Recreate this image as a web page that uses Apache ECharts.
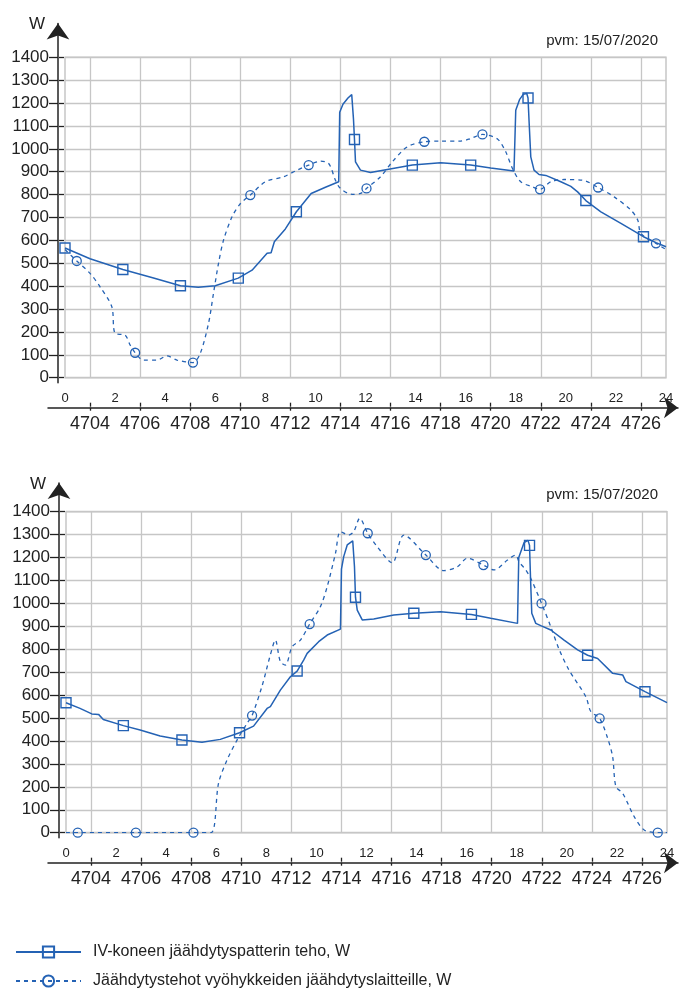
<!DOCTYPE html>
<html>
<head>
<meta charset="utf-8">
<script src="https://cdn.jsdelivr.net/npm/echarts@6/dist/echarts.min.js"></script>
<style>
  html, body { margin: 0; padding: 0; background: #fff; }
  #chart { width: 685px; height: 991px; }
</style>
</head>
<body>
<div id="chart"></div>
<script>
// Hour-of-day labels and hour-of-year labels on the time axis
const hourLabels = [0, 2, 4, 6, 8, 10, 12, 14, 16, 18, 20, 22, 24];
const yearHourLabels = [4704, 4706, 4708, 4710, 4712, 4714, 4716, 4718, 4720, 4722, 4724, 4726];
const yearHourTickHours = [1, 3, 5, 7, 9, 11, 13, 15, 17, 19, 21, 23];
const powerTicks = [0, 100, 200, 300, 400, 500, 600, 700, 800, 900, 1000, 1100, 1200, 1300, 1400];
const dateText = 'pvm: 15/07/2020';
const seriesNames = ['IV-koneen jäähdytyspatterin teho, W', 'Jäähdytystehot vyöhykkeiden jäähdytyslaitteille, W'];

// Upper chart: AHU cooling coil power
const topCoilHours = [0, 1.0, 2.31, 3.5, 4.61, 5.32, 6.0, 6.92, 7.47, 8.07, 8.23, 8.36, 8.8, 9.24, 9.83, 10.4, 10.93,
  10.97, 11.1, 11.3, 11.45, 11.52, 11.56, 11.6, 11.8, 12.2, 12.87, 13.87, 15.0, 16.2, 17.0, 17.93,
  18.0, 18.15, 18.3, 18.44, 18.49, 18.53, 18.6, 18.73, 18.93, 19.2, 19.8, 20.2, 20.47, 20.8, 21.4, 22.2, 23.1, 23.6, 24];
const topCoilPower = [567, 520, 473, 437, 402, 395, 402, 435, 470, 544, 546, 594, 650, 725, 805, 832, 856,
  1160, 1195, 1222, 1237, 1130, 1041, 943, 907, 897, 910, 929, 939, 929, 916, 903,
  1169, 1215, 1238, 1242, 1222, 1125, 965, 907, 888, 884, 856, 836, 812, 774, 725, 674, 616, 590, 572];
const topCoilMarks = [0, 2.31, 4.61, 6.92, 9.24, 11.56, 13.87, 16.2, 18.49, 20.8, 23.1];

// Upper chart: zone cooling power
const topZoneHours = [0, 0.47, 1.0, 1.4, 1.87, 2.0, 2.4, 2.6, 2.8, 3.13, 3.67, 4.07, 4.47, 5.11, 5.4, 5.73, 5.93, 6.13,
  6.33, 6.67, 7.0, 7.4, 8.0, 8.73, 9.27, 9.73, 10.2, 10.53, 10.8, 11.0, 11.47, 11.8, 12.04, 12.6, 13.07, 13.67,
  14.35, 15.0, 15.8, 16.2, 16.67, 17.27, 17.6, 17.87, 18.2, 18.67, 18.97, 19.4, 19.93, 20.67, 21.29, 21.93,
  22.6, 22.87, 23.0, 23.6, 24];
const topZonePower = [560, 510, 456, 397, 310, 194, 186, 143, 109, 77, 77, 95, 77, 66, 106, 237, 369, 500,
  601, 703, 760, 798, 856, 878, 907, 929, 946, 936, 863, 827, 801, 805, 827, 878, 943, 1009,
  1031, 1034, 1034, 1045, 1063, 1043, 987, 914, 856, 834, 823, 856, 866, 863, 831, 790,
  732, 689, 630, 587, 560];
const topZoneMarks = [0.47, 2.8, 5.11, 7.4, 9.73, 12.04, 14.35, 16.67, 18.97, 21.29, 23.6];

// Lower chart: AHU cooling coil power
const bottomCoilHours = [0, 0.56, 1.03, 1.3, 1.49, 2.29, 2.96, 3.76, 4.63, 5.43, 6.16, 6.93, 7.49, 8.03, 8.16, 8.56,
  8.96, 9.23, 9.49, 9.63, 10.09, 10.43, 10.96, 11.0, 11.09, 11.23, 11.45, 11.52, 11.56, 11.63, 11.83, 12.29,
  13.09, 13.89, 14.96, 16.19, 16.96, 18.03, 18.08, 18.29, 18.45, 18.51, 18.55, 18.6, 18.76, 18.96, 19.36,
  19.89, 20.43, 20.83, 21.23, 21.83, 22.23, 22.36, 23.12, 24];
const bottomCoilPower = [567, 542, 518, 516, 494, 467, 448, 422, 404, 394, 407, 436, 465, 542, 550, 622,
  680, 705, 753, 782, 833, 862, 888, 1150, 1204, 1255, 1273, 1160, 1027, 971, 928, 932,
  949, 957, 964, 952, 935, 913, 1200, 1265, 1275, 1253, 1110, 957, 913, 903, 884,
  840, 797, 774, 760, 695, 688, 659, 615, 567];
const bottomCoilMarks = [0, 2.29, 4.63, 6.93, 9.23, 11.56, 13.89, 16.19, 18.51, 20.83, 23.12];

// Lower chart: zone cooling power
const bottomZoneHours = [0, 0.47, 2.79, 5.09, 5.79, 6.09, 6.43, 6.83, 7.23, 7.43, 7.83, 8.16, 8.36, 8.56, 8.76,
  9.03, 9.36, 9.73, 10.16, 10.43, 10.76, 10.96, 11.29, 11.49, 11.73, 12.05, 12.43, 13.03, 13.49, 14.37,
  15.09, 15.63, 16.03, 16.67, 17.09, 17.63, 17.96, 18.09, 18.36, 18.56, 18.99, 19.36, 19.69, 20.09, 20.76,
  20.96, 21.31, 21.63, 21.83, 21.96, 22.23, 22.69, 23.09, 23.63, 24];
const bottomZonePower = [0, 0, 0, 0, 0, 215, 317, 404, 477, 511, 640, 775, 840, 746, 731,
  811, 840, 910, 986, 1073, 1218, 1313, 1298, 1313, 1371, 1306, 1247, 1177, 1298, 1211,
  1143, 1160, 1197, 1167, 1146, 1189, 1211, 1182, 1146, 1109, 1000, 898, 800, 709, 593,
  528, 499, 412, 331, 201, 172, 70, 12, 0, 0];
const bottomZoneMarks = [0.47, 2.79, 5.09, 7.43, 9.73, 12.05, 14.37, 16.67, 18.99, 21.31, 23.63];

const BLUE = '#2462b4';
const GRID_GREY = '#c6c6c6';
const INK = '#222222';
const FONT = "'Liberation Sans', Arial, sans-serif";
const plain = v => String(v);
const PLOT_W = 601;
const LINE_LEFT = 48, LINE_RIGHT = 678;

function buildData(hours, power, marks, shape, size) {
  return hours.map((h, i) => marks.includes(h)
    ? { value: [h, power[i]], symbol: shape, symbolSize: size }
    : { value: [h, power[i]], symbol: 'none' });
}

const legendBase = {
  orient: 'vertical', left: 15, padding: 0, itemWidth: 65, itemHeight: 14,
  textStyle: { fontFamily: FONT, fontSize: 16, color: INK, padding: [0, 0, 0, 7] }
};

const option = {
  animation: false,
  backgroundColor: '#fff',
  title: [],
  legend: [
    Object.assign({}, legendBase, { top: 944, data: [seriesNames[0]] }),
    Object.assign({}, legendBase, { top: 973, data: [seriesNames[1]] })
  ],
  grid: [], xAxis: [], yAxis: [], series: []
};

const tickStyle = { color: INK, width: 1.3 };
const noAxisParts = { axisLine: { show: false }, axisLabel: { show: false }, splitLine: { show: false } };

// One chart panel: plot grid, arrowed axis lines, two series
function addPanel(p) {
  const g = option.grid.length;
  const plotBottom = p.top + p.height;
  const pxPerHour = PLOT_W / 24;
  const pxPerWatt = p.height / 1400;
  const yLineBottom = plotBottom + 5;

  option.grid.push({ left: p.left, top: p.top, width: PLOT_W, height: p.height, show: true,
    borderColor: GRID_GREY, borderWidth: 1.5 });
  option.grid.push({ left: LINE_LEFT, top: plotBottom + 29, width: LINE_RIGHT - LINE_LEFT, height: 1 });
  option.grid.push({ left: p.left - 7, top: p.arrowTop, width: 1, height: yLineBottom - p.arrowTop });

  const xi = option.xAxis.length;
  // hour-of-day labels above the arrow line
  option.xAxis.push({
    gridIndex: g, type: 'value', min: 0, max: 24, position: 'bottom', offset: 30,
    axisLine: { show: false }, axisTick: { show: false },
    axisLabel: { inside: true, margin: 3, customValues: hourLabels, formatter: plain,
      fontFamily: FONT, fontSize: 13, color: INK },
    splitLine: { show: false }
  });
  // hour-of-year labels below the arrow line, and the vertical grid lines
  option.xAxis.push({
    gridIndex: g, type: 'value', min: 4703, max: 4727, position: 'bottom', offset: 30,
    axisLine: { show: false },
    axisTick: { show: true, length: 0, customValues: yearHourLabels, lineStyle: { color: 'rgba(0,0,0,0)' } },
    axisLabel: { margin: 7, customValues: yearHourLabels, formatter: plain,
      fontFamily: FONT, fontSize: 18, color: INK },
    splitLine: { show: true, lineStyle: { color: GRID_GREY, width: 1.3 } }
  });
  // arrow line of the time axis with its tick marks
  const lineMin = -(p.left - LINE_LEFT) / pxPerHour;
  const lineMax = (LINE_RIGHT - p.left) / pxPerHour;
  option.xAxis.push({
    gridIndex: g + 1, type: 'value', min: lineMin, max: lineMax, position: 'bottom',
    axisLine: { show: true, symbol: ['none', 'arrow'], symbolSize: [16, 14], lineStyle: { color: INK, width: 1.5 } },
    axisTick: { show: true, length: 3, customValues: yearHourTickHours, lineStyle: tickStyle },
    axisLabel: { show: false }, splitLine: { show: false }
  });
  option.xAxis.push(Object.assign({
    gridIndex: g + 1, type: 'value', min: lineMin, max: lineMax, position: 'top',
    axisTick: { show: true, length: 4, customValues: yearHourTickHours, lineStyle: tickStyle }
  }, noAxisParts));
  option.xAxis.push({ gridIndex: g + 2, type: 'value', show: false });

  const yi = option.yAxis.length;
  option.yAxis.push({
    gridIndex: g, type: 'value', min: 0, max: 1400, interval: 100, offset: 7, position: 'left',
    axisLine: { show: false }, axisTick: { show: false },
    axisLabel: { margin: 9, formatter: plain, fontFamily: FONT, fontSize: 17, color: INK },
    splitLine: { show: true, lineStyle: { color: GRID_GREY, width: 1.3 } }
  });
  option.yAxis.push({ gridIndex: g + 1, type: 'value', show: false });
  // arrow line of the power axis, its ticks and unit
  const wMin = -(yLineBottom - plotBottom) / pxPerWatt;
  const wMax = (plotBottom - p.arrowTop) / pxPerWatt;
  option.yAxis.push({
    gridIndex: g + 2, type: 'value', min: wMin, max: wMax, position: 'left',
    name: 'W', nameLocation: 'end', nameGap: -1,
    nameTextStyle: { fontFamily: FONT, fontSize: 17, color: INK, align: 'right', verticalAlign: 'middle', padding: [0, 13, 0, 0] },
    axisLine: { show: true, symbol: ['none', 'arrow'], symbolSize: [17, 16], lineStyle: { color: INK, width: 1.5 } },
    axisTick: { show: true, length: 9, customValues: powerTicks, lineStyle: tickStyle },
    axisLabel: { show: false }, splitLine: { show: false }
  });
  option.yAxis.push(Object.assign({
    gridIndex: g + 2, type: 'value', min: wMin, max: wMax, position: 'right',
    axisTick: { show: true, length: 5, customValues: powerTicks, lineStyle: tickStyle }
  }, noAxisParts));

  option.title.push({ text: dateText, right: 22, top: p.top - 29,
    textStyle: { fontFamily: FONT, fontSize: 15, fontWeight: 'normal', color: INK } });

  option.series.push({
    name: seriesNames[0], type: 'line', xAxisIndex: xi, yAxisIndex: yi,
    symbol: 'rect', symbolSize: 10, showSymbol: true,
    itemStyle: { color: 'rgba(255,255,255,0)', borderColor: BLUE, borderWidth: 1.4 },
    lineStyle: { color: BLUE, width: 1.5 },
    data: buildData(p.coilHours, p.coilPower, p.coilMarks, 'rect', 10), z: 3
  });
  option.series.push({
    name: seriesNames[1], type: 'line', xAxisIndex: xi, yAxisIndex: yi,
    symbol: 'circle', symbolSize: 9, showSymbol: true, smooth: 0.3,
    itemStyle: { color: 'rgba(255,255,255,0)', borderColor: BLUE, borderWidth: 1.3 },
    lineStyle: { color: BLUE, width: 1.3, type: [4, 4] },
    data: buildData(p.zoneHours, p.zonePower, p.zoneMarks, 'circle', 9), z: 2
  });
}

addPanel({ left: 65, top: 57.3, height: 320.4, arrowTop: 23.5,
  coilHours: topCoilHours, coilPower: topCoilPower, coilMarks: topCoilMarks,
  zoneHours: topZoneHours, zonePower: topZonePower, zoneMarks: topZoneMarks });
addPanel({ left: 66, top: 511.7, height: 321, arrowTop: 483,
  coilHours: bottomCoilHours, coilPower: bottomCoilPower, coilMarks: bottomCoilMarks,
  zoneHours: bottomZoneHours, zonePower: bottomZonePower, zoneMarks: bottomZoneMarks });

const chart = echarts.init(document.getElementById('chart'), null, { renderer: 'canvas' });
chart.setOption(option);
</script>
</body>
</html>
